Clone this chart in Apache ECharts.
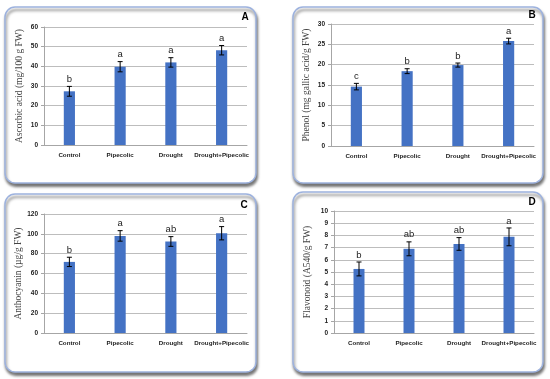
<!DOCTYPE html>
<html><head><meta charset="utf-8">
<script src="https://cdn.jsdelivr.net/npm/echarts@6/dist/echarts.min.js"></script>
<style>html,body{margin:0;padding:0;background:#fff}#c{width:550px;height:379px}</style>
</head><body><div id="c"></div>
<script>
const categories = ['Control', 'Pipecolic', 'Drought', 'Drought+Pipecolic'];

const ascorbic = [27.3, 39.8, 42.0, 48.2];
const ascorbicErr = [2.5, 2.6, 2.4, 2.4];
const ascorbicLetters = ['b', 'a', 'a', 'a'];

const phenol = [14.6, 18.4, 19.9, 25.8];
const phenolErr = [0.8, 0.6, 0.5, 0.7];
const phenolLetters = ['c', 'b', 'b', 'a'];

const anthocyanin = [71.7, 97.9, 92.3, 100.6];
const anthocyaninErr = [4.7, 5.3, 4.9, 6.7];
const anthocyaninLetters = ['b', 'a', 'ab', 'a'];

const flavonoid = [5.25, 6.9, 7.3, 7.88];
const flavonoidErr = [0.57, 0.57, 0.52, 0.73];
const flavonoidLetters = ['b', 'ab', 'ab', 'a'];

const panels = [
  {key:'A', name:'Ascorbic acid (mg/100 g FW)', vals:ascorbic, err:ascorbicErr, letters:ascorbicLetters, max:60, interval:10,
   grid:{left:44, top:27, width:203, height:118}, box:[5,7,251,176], letterPos:[245,17], nameGap:20},
  {key:'B', name:'Phenol (mg gallic acid/g FW)', vals:phenol, err:phenolErr, letters:phenolLetters, max:30, interval:5,
   grid:{left:331, top:24, width:203, height:122}, box:[293,7,250,176], letterPos:[532,15], nameGap:20},
  {key:'C', name:'Anthocyanin (µg/g FW)', vals:anthocyanin, err:anthocyaninErr, letters:anthocyaninLetters, max:120, interval:20,
   grid:{left:44, top:214, width:203, height:119}, box:[5,194,251,178], letterPos:[244,205], nameGap:20},
  {key:'D', name:'Flavonoid (A540/g FW)', vals:flavonoid, err:flavonoidErr, letters:flavonoidLetters, max:10, interval:1,
   grid:{left:334, top:211, width:200, height:122}, box:[293,192,250,180], letterPos:[532,202], nameGap:22}
];

const grids = [], xAxes = [], yAxes = [], series = [], graphics = [];
panels.forEach((p, i) => {
  graphics.push({type:'rect', z:-10, shape:{x:p.box[0], y:p.box[1], width:p.box[2], height:p.box[3], r:10},
    style:{fill:'#fff', stroke:'#9db2de', lineWidth:1.5, shadowBlur:3, shadowOffsetX:1, shadowOffsetY:3, shadowColor:'rgba(0,0,0,0.55)'}});
  graphics.push({type:'text', x:p.letterPos[0], y:p.letterPos[1], style:{text:p.key, font:'bold 10px "Liberation Sans", Arial', fill:'#000', align:'center', verticalAlign:'middle'}});
  grids.push(Object.assign({containLabel:false}, p.grid));
  xAxes.push({type:'category', gridIndex:i, data:categories,
    axisLine:{lineStyle:{color:'#a6a6a6'}}, axisTick:{show:false},
    axisLabel:{interval:0, fontSize:6.2, fontWeight:'bold', color:'#222', fontFamily:'"Liberation Sans", Arial', margin:7}});
  yAxes.push({type:'value', gridIndex:i, min:0, max:p.max, interval:p.interval,
    name:p.name, nameLocation:'middle', nameGap:p.nameGap,
    nameTextStyle:{fontFamily:'"Liberation Serif", "Times New Roman", serif', fontSize:9.5, color:'#444'},
    axisLine:{show:true, lineStyle:{color:'#a6a6a6'}}, axisTick:{show:true, length:3, lineStyle:{color:'#a6a6a6'}},
    splitLine:{lineStyle:{color:'#bdbdbd'}},
    axisLabel:{fontSize:6.5, fontWeight:'bold', color:'#222', fontFamily:'"Liberation Sans", Arial', margin:6}});
  series.push({type:'bar', xAxisIndex:i, yAxisIndex:i, data:p.vals, barWidth:'22%',
    itemStyle:{color:'#4472c4'}, silent:true});
  series.push({type:'custom', xAxisIndex:i, yAxisIndex:i, silent:true, z:10,
    data:p.vals.map((v, k) => [k, v, p.err[k]]),
    renderItem:(params, api) => {
      const k = api.value(0), v = api.value(1), e = api.value(2);
      const top = api.coord([k, v + e]), bot = api.coord([k, v - e]);
      const x = top[0], cw = 2.5;
      const st = {stroke:'#000', lineWidth:1};
      return {type:'group', children:[
        {type:'line', shape:{x1:x, y1:top[1], x2:x, y2:bot[1]}, style:st},
        {type:'line', shape:{x1:x-cw, y1:top[1], x2:x+cw, y2:top[1]}, style:st},
        {type:'line', shape:{x1:x-cw, y1:bot[1], x2:x+cw, y2:bot[1]}, style:st},
        {type:'text', x:x, y:top[1]-2, style:{text:p.letters[k], font:'9.5px "Liberation Sans", Arial', fill:'#222', align:'center', verticalAlign:'bottom'}}
      ]};
    }});
});

const chart = echarts.init(document.getElementById('c'), null, {renderer:'canvas'});
chart.setOption({animation:false, grid:grids, xAxis:xAxes, yAxis:yAxes, series:series, graphic:graphics});
</script></body></html>
